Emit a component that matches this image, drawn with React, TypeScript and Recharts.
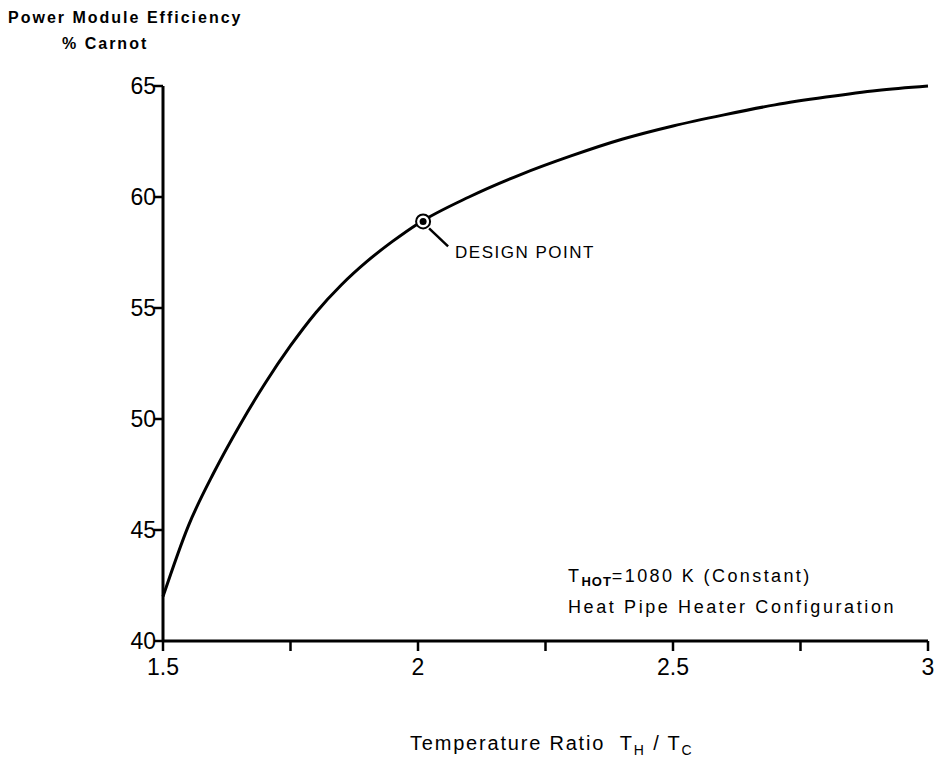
import React from 'react';
import { LineChart, Line, XAxis, YAxis, ReferenceDot } from 'recharts';

// temperature ratio TH/TC vs power module efficiency (% Carnot)
const ratio = [1.5, 1.55, 1.6, 1.65, 1.7, 1.75, 1.8, 1.85, 1.9, 1.95, 2.0, 2.1, 2.2, 2.3, 2.4, 2.5, 2.6, 2.7, 2.8, 2.9, 3.0];
const efficiency = [42.0, 45.2, 47.6, 49.7, 51.6, 53.3, 54.8, 56.05, 57.1, 58.0, 58.8, 60.0, 61.0, 61.85, 62.6, 63.2, 63.7, 64.15, 64.5, 64.8, 65.0];

const xTicks = [1.5, 1.75, 2, 2.25, 2.5, 2.75, 3];
const xLabelled = [1.5, 2, 2.5, 3];
const yTicks = [40, 45, 50, 55, 60, 65];

const designPoint = { x: 2.01, y: 58.9, label: 'DESIGN POINT' };

const data = ratio.map((r, i) => ({ r, eff: efficiency[i] }));

const FONT = '"Liberation Sans", Arial, sans-serif';

const XTick = (props: any) => {
    const { x, y, payload } = props;
    if (!xLabelled.includes(payload.value)) return null;
    return (
        <text x={x} y={y} dy={22} textAnchor="middle" fontFamily={FONT} fontSize={23} fill="#000">
            {String(payload.value)}
        </text>
    );
};

const YTick = (props: any) => {
    const { x, y, payload } = props;
    return (
        <text x={x + 4} y={y} dy={8} textAnchor="end" fontFamily={FONT} fontSize={23} fill="#000">
            {payload.value}
        </text>
    );
};

const DesignMark = (props: any) => {
    const { cx, cy } = props;
    return (
        <g>
            <circle cx={cx} cy={cy} r={7} fill="#fff" stroke="#000" strokeWidth={2} />
            <circle cx={cx} cy={cy} r={3.5} fill="#000" />
            <line x1={cx + 6} y1={cy + 7} x2={cx + 25} y2={cy + 25} stroke="#000" strokeWidth={2.5} />
            <text x={cx + 32} y={cy + 37} fontFamily={FONT} fontSize={17} fill="#000" letterSpacing={1.5}>
                {designPoint.label}
            </text>
        </g>
    );
};

const textStyle: React.CSSProperties = {
    position: 'absolute',
    fontFamily: FONT,
    color: '#000',
    whiteSpace: 'nowrap',
    lineHeight: 1,
};

export default function App() {
    return (
        <div style={{ position: 'absolute', left: 0, top: 0, width: 936, height: 759, background: '#fff' }}>
            <LineChart width={936} height={759} data={data} margin={{ top: 86, right: 8, bottom: 58, left: 0 }}>
                <XAxis
                    dataKey="r"
                    type="number"
                    domain={[1.5, 3]}
                    ticks={xTicks}
                    interval={0}
                    height={60}
                    axisLine={{ stroke: '#000', strokeWidth: 3 }}
                    tickLine={{ stroke: '#000', strokeWidth: 2.5 }}
                    tickSize={10}
                    tick={<XTick />}
                />
                <YAxis
                    type="number"
                    domain={[40, 65]}
                    ticks={yTicks}
                    interval={0}
                    width={163}
                    axisLine={{ stroke: '#000', strokeWidth: 3 }}
                    tickLine={{ stroke: '#000', strokeWidth: 2.5 }}
                    tickSize={9}
                    tickMargin={2}
                    tick={<YTick />}
                />
                <Line
                    type="monotone"
                    dataKey="eff"
                    stroke="#000"
                    strokeWidth={3}
                    dot={false}
                    isAnimationActive={false}
                />
                <ReferenceDot x={designPoint.x} y={designPoint.y} r={7} shape={<DesignMark />} />
            </LineChart>

            <div style={{ ...textStyle, left: 8, top: 10, fontSize: 16, fontWeight: 'bold', letterSpacing: 2 }}>
                Power Module Efficiency
            </div>
            <div style={{ ...textStyle, left: 62, top: 36, fontSize: 16, fontWeight: 'bold', letterSpacing: 2 }}>
                % Carnot
            </div>

            <div style={{ ...textStyle, left: 568, top: 567, fontSize: 18, letterSpacing: 2.4 }}>
                T<sub style={{ fontSize: 13, fontWeight: 'bold', letterSpacing: 1, verticalAlign: -4 }}>HOT</sub>=1080 K (Constant)
            </div>
            <div style={{ ...textStyle, left: 568, top: 598, fontSize: 18, letterSpacing: 2.6 }}>
                Heat Pipe Heater Configuration
            </div>

            <div style={{ ...textStyle, left: 410, top: 733, fontSize: 20, letterSpacing: 1.8 }}>
                Temperature Ratio&nbsp;&nbsp;T<sub style={{ fontSize: 14, verticalAlign: -5 }}>H</sub> / T<sub style={{ fontSize: 14, verticalAlign: -5 }}>C</sub>
            </div>
        </div>
    );
}
